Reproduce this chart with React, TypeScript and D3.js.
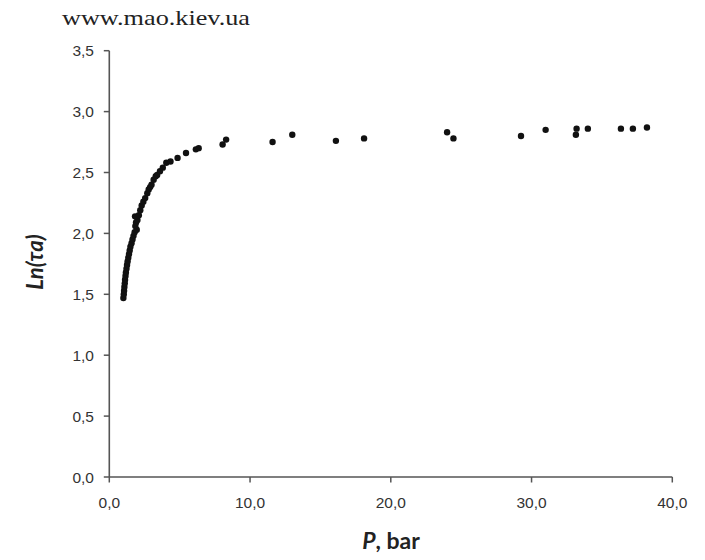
import React from "react";
import * as d3 from "d3";

const pressure: number[] = [
  1.0, 1.03, 1.05, 1.07, 1.1, 1.12, 1.15, 1.18, 1.22, 1.26, 1.3, 1.35, 1.4, 1.45, 1.5,
  1.58, 1.65, 1.72, 1.8, 1.95, 1.85, 1.9, 2.0, 1.83, 2.1, 2.2, 2.3, 2.42, 2.55, 2.7,
  2.8, 2.9, 3.0, 3.15, 3.3, 3.4, 3.6, 3.8, 4.05, 4.35, 4.85, 5.45, 6.15, 6.35, 8.05,
  8.3, 11.6, 13.0, 16.1, 18.1, 24.0, 24.45, 29.25, 31.0, 33.15, 33.2, 34.0, 36.35, 37.2, 38.2,
];
const lnTau: number[] = [
  1.47, 1.5, 1.53, 1.56, 1.59, 1.62, 1.65, 1.68, 1.71, 1.74, 1.77, 1.8, 1.83, 1.86, 1.89,
  1.92, 1.95, 1.98, 2.01, 2.03, 2.06, 2.09, 2.11, 2.14, 2.15, 2.19, 2.23, 2.26, 2.29, 2.33,
  2.36, 2.38, 2.4, 2.44, 2.47, 2.48, 2.51, 2.54, 2.58, 2.59, 2.62, 2.66, 2.69, 2.7, 2.73,
  2.77, 2.75, 2.81, 2.76, 2.78, 2.83, 2.78, 2.8, 2.85, 2.81, 2.86, 2.86, 2.86, 2.86, 2.87,
];
const xTicks: number[] = [0, 10, 20, 30, 40];
const yTicks: number[] = [0, 0.5, 1, 1.5, 2, 2.5, 3, 3.5];

const W = 705;
const H = 560;
const left = 109.3;
const right = 672.3;
const top = 50.7;
const bottom = 477;

export default function App() {
  const x = d3.scaleLinear().domain([0, 40]).range([left, right]);
  const y = d3.scaleLinear().domain([0, 3.5]).range([bottom, top]);
  const fmt = (v: number) => v.toFixed(1).replace(".", ",");
  const axisColor = "#555";
  const labelFont = "'Liberation Sans', Arial, sans-serif";
  return (
    <svg
      width={W}
      height={H}
      style={{ position: "absolute", left: 0, top: 0, background: "#fff" }}
    >
      <defs>
        <clipPath id="pageClip">
          <rect x={0} y={0} width={688} height={H} />
        </clipPath>
      </defs>
      <rect x={0} y={0} width={W} height={H} fill="#fff" />
      <g clipPath="url(#pageClip)">
        <text
          x={62}
          y={25}
          fontFamily="'Liberation Serif', 'DejaVu Serif', serif"
          fontSize={21}
          fill="#222"
          textLength={188}
          lengthAdjust="spacingAndGlyphs"
        >
          www.mao.kiev.ua
        </text>
        {/* axes */}
        <line x1={left} x2={left} y1={top} y2={bottom} stroke={axisColor} strokeWidth={1.6} />
        <line x1={left} x2={right} y1={bottom} y2={bottom} stroke={axisColor} strokeWidth={1.6} />
        {yTicks.map((t) => (
          <g key={"y" + t}>
            <line x1={left - 5.5} x2={left} y1={y(t)} y2={y(t)} stroke={axisColor} strokeWidth={1.5} />
            <text
              x={94}
              y={y(t)}
              dy="0.36em"
              textAnchor="end"
              fontFamily={labelFont}
              fontSize={15.5}
              fill="#333"
            >
              {fmt(t)}
            </text>
          </g>
        ))}
        {xTicks.map((t) => (
          <g key={"x" + t}>
            <line x1={x(t)} x2={x(t)} y1={bottom} y2={bottom + 5.5} stroke={axisColor} strokeWidth={1.5} />
            <text
              x={x(t)}
              y={508}
              textAnchor="middle"
              fontFamily={labelFont}
              fontSize={15.5}
              fill="#333"
            >
              {fmt(t)}
            </text>
          </g>
        ))}
        {/* points */}
        {pressure.map((p, i) => (
          <circle key={"p" + i} cx={x(p)} cy={y(lnTau[i])} r={3.2} fill="#111" />
        ))}
        {/* axis titles */}
        <text
          transform={`translate(43, 262) rotate(-90)`}
          textAnchor="middle"
          fontFamily="Lato, 'Open Sans', sans-serif"
          fontWeight="bold"
          fontStyle="italic"
          fontSize={22}
          fill="#222"
        >
          Ln(τa)
        </text>
        <text
          x={391}
          y={549}
          textAnchor="middle"
          fontFamily="Lato, 'Open Sans', sans-serif"
          fontWeight="bold"
          fontSize={23}
          fill="#222"
        >
          <tspan fontStyle="italic">P</tspan>, bar
        </text>
      </g>
    </svg>
  );
}
